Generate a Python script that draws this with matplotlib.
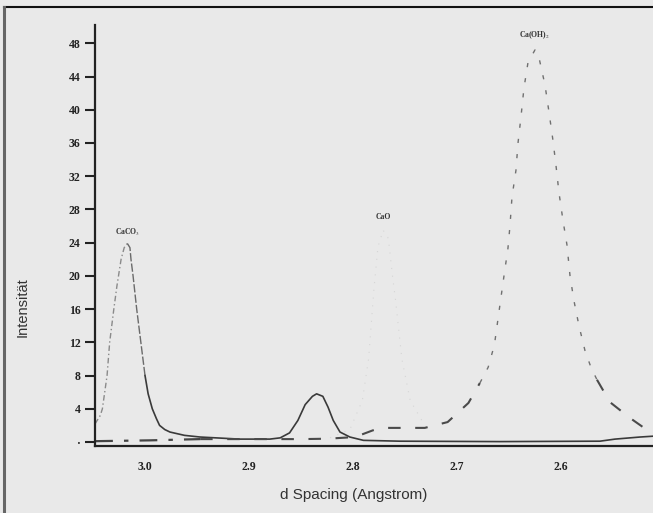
import matplotlib
matplotlib.use("Agg")
import matplotlib.pyplot as plt
from matplotlib.lines import Line2D

# ================= DATA =================

# solid trace (CaCO3 peak + small peak near 2.83)
solid_d = [3.048, 3.043, 3.041, 3.0365, 3.034, 3.030, 3.027, 3.023, 3.020, 3.017,
           3.0145, 3.0135, 3.0115, 3.008, 3.004, 3.000, 2.997, 2.993, 2.989, 2.986,
           2.981, 2.976, 2.962, 2.947, 2.909, 2.880, 2.870, 2.861, 2.853, 2.846,
           2.839, 2.835, 2.829, 2.824, 2.819, 2.8125, 2.803, 2.790, 2.755, 2.659,
           2.5625, 2.548, 2.524, 2.5115]
solid_i = [2.2, 3.2, 4.0, 8.0, 12.0, 16.0, 18.8, 22.0, 23.4, 23.9,
           23.4, 22.0, 20.0, 16.0, 12.0, 8.0, 5.8, 4.0, 2.8, 2.0,
           1.5, 1.2, 0.8, 0.6, 0.35, 0.35, 0.5, 1.1, 2.6, 4.5,
           5.5, 5.8, 5.5, 4.2, 2.6, 1.2, 0.6, 0.2, 0.1, 0.05,
           0.1, 0.35, 0.6, 0.7]

# dashed trace (Ca(OH)2 peak)
dash_d = [3.048, 2.9952, 2.947, 2.899, 2.849, 2.824, 2.798, 2.781, 2.772, 2.755,
          2.731, 2.709, 2.689, 2.678, 2.670, 2.664, 2.6587, 2.6548, 2.651, 2.649,
          2.6471, 2.6433, 2.6413, 2.6385, 2.6356, 2.6317, 2.625, 2.6212, 2.6154, 2.6115,
          2.6077, 2.6048, 2.6019, 2.5981, 2.5942, 2.5913, 2.5875, 2.5827, 2.5769, 2.5712,
          2.5654, 2.5529, 2.5337, 2.5144, 2.5115]
dash_i = [0.1, 0.2, 0.35, 0.35, 0.35, 0.4, 0.6, 1.4, 1.7, 1.7,
          1.7, 2.4, 4.7, 7.1, 9.0, 11.7, 16.5, 20.0, 23.3, 26.1,
          29.5, 32.7, 36.0, 39.1, 42.6, 45.7, 47.2, 46.3, 43.0, 39.7,
          36.3, 33.3, 30.0, 26.7, 23.7, 20.0, 17.0, 14.0, 11.0, 9.0,
          7.5, 4.8, 2.9, 1.2, 1.0]

# faint CaO trace (barely visible in the scan)
cao_d = [2.822, 2.803, 2.791, 2.785, 2.780, 2.776, 2.771, 2.766, 2.762, 2.759,
         2.753, 2.745, 2.731]
cao_i = [0.5, 1.5, 5.0, 10.0, 18.2, 23.5, 25.5, 24.5, 20.0, 17.0,
         10.0, 5.0, 2.0]

y_ticks = [0, 4, 8, 12, 16, 20, 24, 28, 32, 36, 40, 44, 48]
y_labels = ["\u00b7", "4", "8", "12", "16", "20", "24", "28", "32", "36", "40", "44", "48"]
x_ticks = [3.0, 2.9, 2.8, 2.7, 2.6]
x_labels = ["3.0", "2.9", "2.8", "2.7", "2.6"]

peak_names = ["CaCO$_3$", "CaO", "Ca(OH)$_2$"]
peak_pos = [(3.0165, 24.6), (2.771, 26.6), (2.6255, 48.3)]

# ================= FIGURE =================

plt.rcParams["mathtext.fontset"] = "stix"
bg = "#e9e9e9"

fig = plt.figure(figsize=(6.53, 5.13), dpi=100, facecolor=bg)
ax = fig.add_axes([95 / 653, 1 - 446 / 513, 558 / 653, 421 / 513], facecolor=bg)

# left part of CaCO3 peak is faint in the scan
ax.plot(solid_d[:10], solid_i[:10], color="#8a8a8a", lw=1.0, dashes=(4, 2, 1, 2))
ax.plot(solid_d[9:16], solid_i[9:16], color="#6a6a6a", lw=1.0, dashes=(6, 1.5))
ax.plot(solid_d[15:], solid_i[15:], color="#3a3a3a", lw=1.2)

# dashed trace: dash-dot near the left edge, light dashes on the tall peak
ax.plot(dash_d[:3], dash_i[:3], color="#444444", lw=1.6, dashes=(8, 5, 2, 5))
ax.plot(dash_d[2:14], dash_i[2:14], color="#4a4a4a", lw=1.5, dashes=(6, 7))
ax.plot(dash_d[13:41], dash_i[13:41], color="#707070", lw=1.0, dashes=(3, 8))
ax.plot(dash_d[40:], dash_i[40:], color="#4a4a4a", lw=1.5, dashes=(6, 7))

ax.plot(cao_d, cao_i, color="#d6d6d6", lw=0.8, dashes=(1, 6))

for name, (px, py) in zip(peak_names, peak_pos):
    ax.text(px, py, name, fontsize=5.5, family="Liberation Serif", fontweight="bold",
            color="#333333", ha="center", va="bottom")

# ================= AXES =================

ax.set_xlim(3.0481, 2.5115)
ax.set_ylim(-0.48, 50.2)

ax.set_yticks(y_ticks)
ax.set_yticklabels(y_labels, family="Liberation Serif", fontweight="bold", fontsize=8.5)
ax.set_xticks(x_ticks)
ax.set_xticklabels(x_labels, family="Liberation Serif", fontweight="bold", fontsize=8.5)

ax.tick_params(axis="y", direction="out", length=7, width=1.5, pad=3.5, colors="#222222")
ax.tick_params(axis="x", length=0, pad=11, colors="#222222")

for side in ["top", "right"]:
    ax.spines[side].set_visible(False)
for side in ["left", "bottom"]:
    ax.spines[side].set_color("#222222")
    ax.spines[side].set_linewidth(1.6)

fig.text(354 / 653, 1 - 495 / 513, "d Spacing (Angstrom)", family="Liberation Sans",
         fontsize=11, color="#333333", ha="center", va="center")
fig.text(23 / 653, 1 - 307 / 513, "Intensität", family="Liberation Sans",
         fontsize=10.5, color="#333333", ha="center", va="center", rotation=90)

# scan border (top and left edges only)
fig.add_artist(Line2D([4 / 653, 1], [1 - 7 / 513, 1 - 7 / 513], transform=fig.transFigure,
                      color="#111111", lw=1.5))
fig.add_artist(Line2D([4 / 653, 4 / 653], [0, 1 - 7 / 513], transform=fig.transFigure,
                      color="#666666", lw=2.2))

fig.savefig("out.png", dpi=100, facecolor=bg)
